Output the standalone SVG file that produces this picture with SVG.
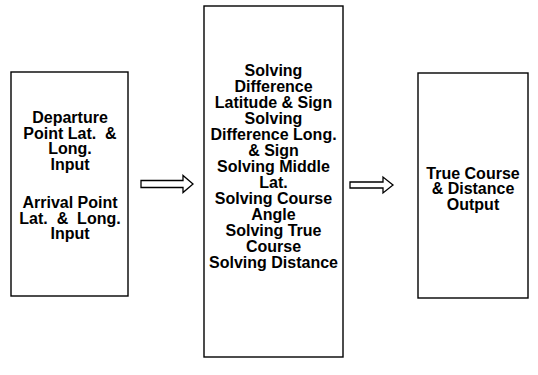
<svg xmlns="http://www.w3.org/2000/svg" width="538" height="375" viewBox="0 0 538 375">
<style>
.box{fill:#fff;stroke:#000;stroke-width:1.4}
.t{font-family:"Liberation Sans",Arial,sans-serif;font-size:16px;font-weight:bold;fill:#000;text-anchor:middle;white-space:pre}
.arr{fill:#fff;stroke:#000;stroke-width:1.3;stroke-linejoin:miter}
</style>
<rect width="538" height="375" fill="#fff"/>
<g id="input">
<rect class="box" x="11" y="72" width="117" height="224"/>
<text class="t" x="70" y="123">Departure</text>
<text class="t" x="70" y="138.5">Point Lat.  &amp;</text>
<text class="t" x="70" y="154">Long.</text>
<text class="t" x="70" y="169.5">Input</text>
<text class="t" x="70" y="208">Arrival Point</text>
<text class="t" x="70" y="223.5">Lat.  &amp;  Long.</text>
<text class="t" x="70" y="239">Input</text>
</g>
<g id="process">
<rect class="box" x="204" y="6" width="139" height="351"/>
<text class="t" x="273.5" y="75.5">Solving</text>
<text class="t" x="273.5" y="91.5">Difference</text>
<text class="t" x="273.5" y="107.5">Latitude &amp; Sign</text>
<text class="t" x="273.5" y="123.5">Solving</text>
<text class="t" x="273.5" y="139.5">Difference Long.</text>
<text class="t" x="273.5" y="155.5">&amp; Sign</text>
<text class="t" x="273.5" y="171.5">Solving Middle</text>
<text class="t" x="273.5" y="187.5">Lat.</text>
<text class="t" x="273.5" y="203.5">Solving Course</text>
<text class="t" x="273.5" y="219.5">Angle</text>
<text class="t" x="273.5" y="235.5">Solving True</text>
<text class="t" x="273.5" y="251.5">Course</text>
<text class="t" x="273.5" y="267.5">Solving Distance</text>
</g>
<g id="output">
<rect class="box" x="418" y="73" width="110" height="225"/>
<text class="t" x="473" y="178.5">True Course</text>
<text class="t" x="473" y="194">&amp; Distance</text>
<text class="t" x="473" y="209.5">Output</text>
</g>
<g id="connectors">
<path class="arr" d="M141,180.5 H183 V175.5 L193,184 L183,192.5 V187.5 H141 Z"/>
<path class="arr" d="M350,182 H383 V177 L393,185 L383,193 V188 H350 Z"/>
</g>
</svg>
